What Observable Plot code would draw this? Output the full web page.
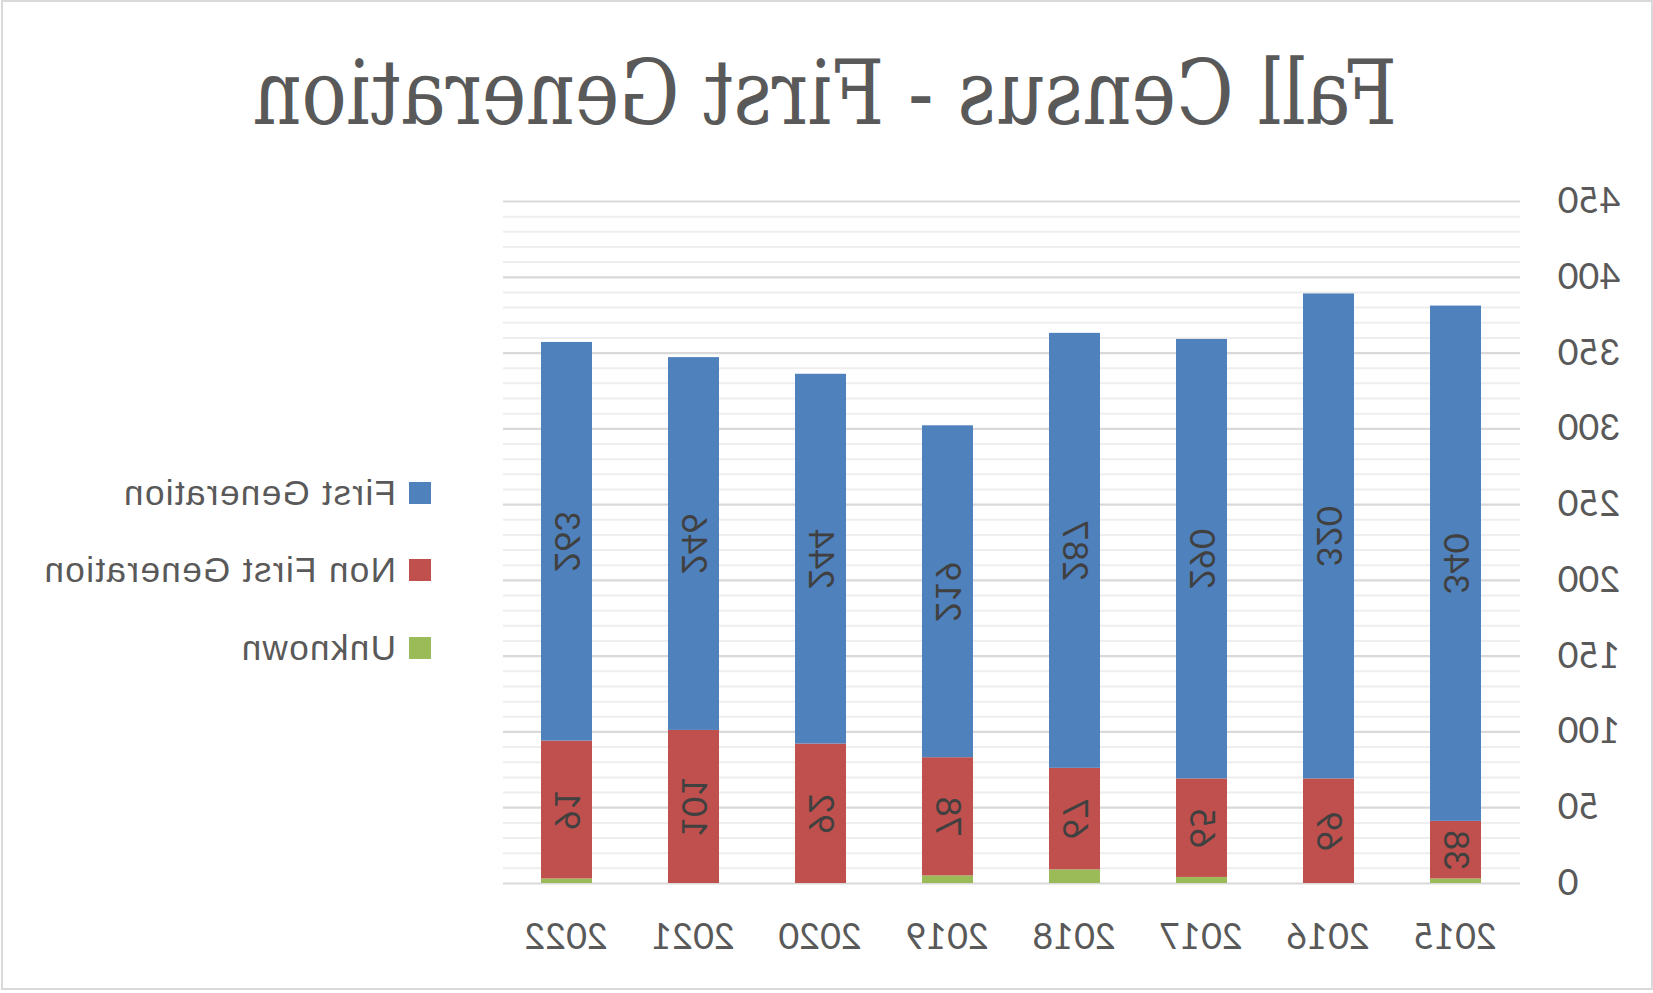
<!DOCTYPE html>
<html>
<head>
<meta charset="utf-8">
<script src="https://cdn.jsdelivr.net/npm/d3@7"></script>
<script src="https://cdn.jsdelivr.net/npm/@observablehq/plot@0.6"></script>
<style>
  html, body { margin: 0; padding: 0; background: #ffffff; }
  #page {
    position: relative; width: 1653px; height: 993px; overflow: hidden;
    transform: scaleX(-1); transform-origin: 826.5px 0;
    background: #ffffff;
  }
  #frame {
    position: absolute; left: 0; top: 0; width: 1648px; height: 986px;
    border: 2.5px solid #d9d9d9; box-sizing: content-box;
  }
  #title { position: absolute; left: 0; top: 0; }
  #chart { position: absolute; left: 0; top: 150px; }
  .leg { position: absolute; left: 1222px; font-family: "Liberation Sans", Arial, sans-serif;
         font-size: 35px; letter-spacing: 1.4px; color: #595959; white-space: nowrap; }
  .leg span.sw { position: absolute; left: 0; width: 22px; height: 22px; }
  .leg span.tx { position: absolute; left: 35px; line-height: 34px; }
</style>
</head>
<body>
<div id="page">
  <div id="frame"></div>
  <svg id="title" width="1653" height="150">
    <text x="828" y="124" text-anchor="middle" textLength="1144" lengthAdjust="spacingAndGlyphs"
      font-family="DejaVu Serif Condensed, DejaVu Serif, serif" font-size="90" fill="#595959">Fall Census - First Generation</text>
  </svg>
  <div id="chart"></div>
  <div id="legend"></div>
</div>
<script>
const years = ["2015", "2016", "2017", "2018", "2019", "2020", "2021", "2022"];
const firstGen = [340, 320, 290, 287, 219, 244, 246, 263];
const nonFirstGen = [38, 69, 65, 67, 78, 92, 101, 91];
const unknown = [3, 0, 4, 9, 5, 0, 0, 3];
const seriesNames = ["Unknown", "Non First Generation", "First Generation"];
const seriesColors = ["#9BBB59", "#C0504D", "#4F81BD"];
const yTicks = [0, 50, 100, 150, 200, 250, 300, 350, 400, 450];

// build stacked rows (Unknown at bottom, then Non First, then First)
const rows = [];
years.forEach((yr, i) => {
  const vals = [unknown[i], nonFirstGen[i], firstGen[i]];
  let base = 0;
  vals.forEach((v, k) => {
    rows.push({year: yr, series: seriesNames[k], value: v, y1: base, y2: base + v, mid: base + v / 2});
    base += v;
  });
});
const labelRows = rows.filter(d => d.series !== "Unknown" && d.value > 0);
const minor = d3.range(0, 451, 10).filter(v => v % 50 !== 0);

const chart = Plot.plot({
  width: 1180,
  height: 843,
  marginLeft: 133,
  marginRight: 30,
  marginTop: 51,
  marginBottom: 110,
  style: {fontFamily: "Lato, sans-serif", color: "#595959", background: "transparent"},
  x: {domain: years, paddingInner: 0.6, paddingOuter: 0.3, label: null},
  y: {domain: [0, 450], label: null},
  color: {domain: seriesNames, range: seriesColors},
  marks: [
    Plot.ruleY(minor, {stroke: "#eeeeee", strokeWidth: 2}),
    Plot.ruleY(yTicks, {stroke: "#d9d9d9", strokeWidth: 2.2}),
    Plot.barY(rows, {x: "year", y1: "y1", y2: "y2", fill: "series", inset: 0}),
    Plot.text(labelRows, {x: "year", y: "mid", text: d => String(d.value), rotate: -90,
      fontSize: 35, fill: "#404040", fontFamily: "Lato, sans-serif"}),
    Plot.axisY({ticks: yTicks, tickSize: 0, tickPadding: 38, fontSize: 36, textAnchor: "end"}),
    Plot.axisX({tickSize: 0, tickPadding: 40, fontSize: 36})
  ]
});
document.getElementById("chart").appendChild(chart);

// legend (top to bottom: First, Non First, Unknown)
const legendOrder = [2, 1, 0];
const legendY = [493, 570, 648];
const legend = document.getElementById("legend");
legendOrder.forEach((k, j) => {
  const item = document.createElement("div");
  item.className = "leg";
  item.style.top = (legendY[j] - 17) + "px";
  const sw = document.createElement("span");
  sw.className = "sw";
  sw.style.background = seriesColors[k];
  sw.style.top = "6px";
  const tx = document.createElement("span");
  tx.className = "tx";
  tx.textContent = seriesNames[k];
  item.appendChild(sw);
  item.appendChild(tx);
  legend.appendChild(item);
});
</script>
</body>
</html>
